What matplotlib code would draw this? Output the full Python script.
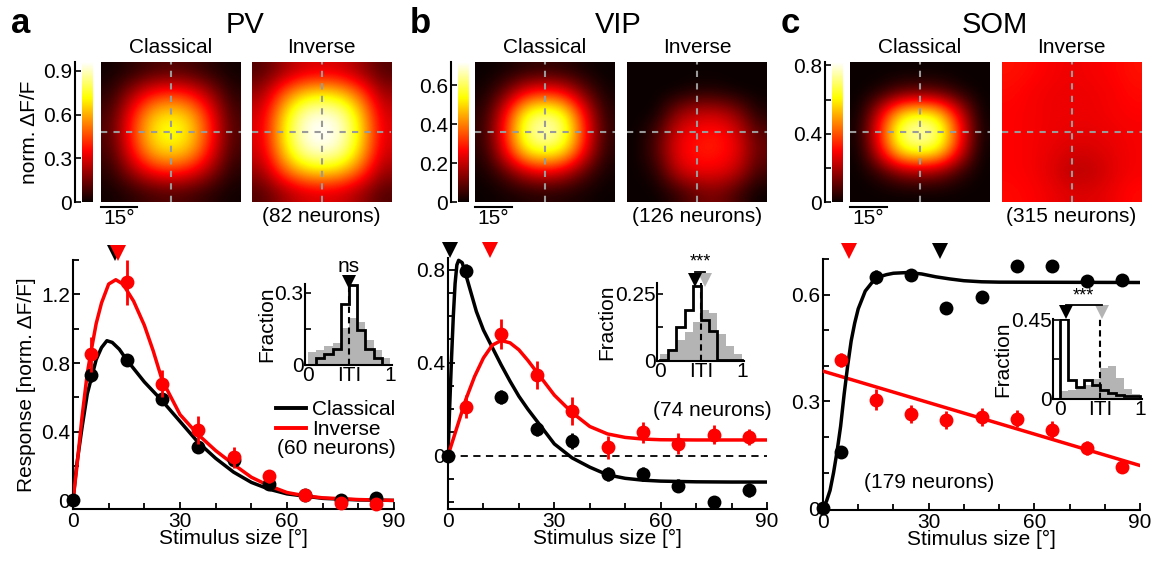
import numpy as np
import matplotlib
matplotlib.use("Agg")
import matplotlib.pyplot as plt
from matplotlib.lines import Line2D
from matplotlib.ticker import MultipleLocator

plt.rcParams['font.family'] = ['Liberation Sans', 'DejaVu Sans']
FS = 15
plt.rcParams['font.size'] = FS

# ---------------- data ----------------
sizes = [0, 5, 15, 25, 35, 45, 55, 65, 75, 85]
inv_sizes = [5, 15, 25, 35, 45, 55, 65, 75, 85]

# PV
pv_cls = [0, 0.73, 0.815, 0.59, 0.31, 0.235, 0.095, 0.03, 0.0, 0.015]
pv_cls_err = [0, 0.04, 0.03, 0.03, 0.03, 0.02, 0.02, 0.015, 0.01, 0.01]
pv_inv = [0.85, 1.27, 0.68, 0.41, 0.25, 0.14, 0.03, -0.015, -0.02]
pv_inv_err = [0.10, 0.13, 0.08, 0.08, 0.06, 0.04, 0.03, 0.02, 0.02]
pv_fit_cls_x = [0, 1, 2.5, 4, 5, 6.5, 8, 9.5, 11, 13, 15, 20, 25, 30, 35, 40, 45, 50, 55, 60, 70, 80, 90]
pv_fit_cls_y = [0, 0.2, 0.42, 0.62, 0.70, 0.82, 0.89, 0.93, 0.92, 0.88, 0.82, 0.69, 0.58, 0.46, 0.34,
                0.245, 0.165, 0.105, 0.065, 0.038, 0.012, 0.003, 0.0]
pv_fit_inv_x = [0, 1, 2.5, 4, 5, 6.5, 8, 10, 12, 14, 17, 20, 22.5, 25, 30, 35, 40, 45, 50, 55, 60, 65, 70, 80, 90]
pv_fit_inv_y = [0, 0.18, 0.48, 0.74, 0.86, 1.03, 1.15, 1.26, 1.285, 1.26, 1.16, 1.02, 0.87, 0.70, 0.50,
                0.385, 0.29, 0.21, 0.135, 0.085, 0.046, 0.027, 0.015, 0.005, 0.0]
pv_peaks = [11.8, 12.6]          # classical, inverse preferred size
pv_hist_cls = [0.0, 0.028, 0.045, 0.065, 0.255, 0.33, 0.145, 0.065, 0.03, 0.0]
pv_hist_inv = [0.055, 0.062, 0.079, 0.09, 0.152, 0.194, 0.18, 0.104, 0.062, 0.028]
pv_hist_marks = [0.5, 0.5]

# VIP
vip_cls = [0, 0.796, 0.25, 0.114, 0.064, -0.079, -0.079, -0.129, -0.2, -0.15]
vip_cls_err = [0, 0.03, 0.03, 0.03, 0.035, 0.03, 0.03, 0.03, 0.025, 0.03]
vip_inv = [0.21, 0.524, 0.347, 0.193, 0.036, 0.10, 0.05, 0.09, 0.079]
vip_inv_err = [0.05, 0.065, 0.06, 0.06, 0.05, 0.045, 0.045, 0.04, 0.035]
vip_fit_cls_x = [0, 0.5, 1, 1.5, 2, 2.5, 3, 4, 5, 6.5, 8, 10, 12.5, 15, 17.5, 20, 22.5, 25, 30, 35, 40,
                 45, 50, 55, 60, 70, 80, 90]
vip_fit_cls_y = [0, 0.22, 0.42, 0.6, 0.74, 0.82, 0.84, 0.83, 0.78, 0.70, 0.62, 0.54, 0.465, 0.39, 0.32,
                 0.255, 0.2, 0.15, 0.05, -0.01, -0.05, -0.083, -0.098, -0.106, -0.11, -0.113, -0.114, -0.114]
vip_fit_inv_x = [0, 2.5, 5, 7.5, 10, 12.5, 15, 17.5, 20, 22.5, 25, 27.5, 30, 35, 40, 45, 50, 55, 60, 70, 90]
vip_fit_inv_y = [0, 0.12, 0.24, 0.34, 0.42, 0.475, 0.495, 0.485, 0.455, 0.41, 0.36, 0.31, 0.26, 0.185,
                 0.125, 0.093, 0.078, 0.071, 0.068, 0.067, 0.067]
vip_peaks = [0.6, 11.8]
vip_hist_cls = [0.004, 0.042, 0.126, 0.19, 0.277, 0.153, 0.11, 0.003, 0.003, 0.003]
vip_hist_inv = [0.027, 0.046, 0.077, 0.108, 0.145, 0.19, 0.176, 0.099, 0.054, 0.025]
vip_hist_marks = [0.43, 0.55]

# SOM
som_cls = [0, 0.157, 0.65, 0.654, 0.561, 0.593, 0.679, 0.68, 0.637, 0.64]
som_cls_err = [0, 0.01, 0.02, 0.01, 0.01, 0.01, 0.01, 0.01, 0.01, 0.01]
som_inv = [0.417, 0.305, 0.265, 0.247, 0.256, 0.252, 0.22, 0.169, 0.115]
som_inv_err = [0.02, 0.03, 0.025, 0.025, 0.025, 0.025, 0.025, 0.02, 0.015]
som_fit_cls_x = [0, 1, 2, 3, 4, 5, 6, 7, 8, 9, 10, 12, 14, 16, 18, 20, 24, 28, 32, 36, 40, 45, 50, 90]
som_fit_cls_y = [0, 0.02, 0.05, 0.10, 0.16, 0.23, 0.32, 0.40, 0.47, 0.52, 0.56, 0.61, 0.635, 0.65, 0.656,
                 0.66, 0.662, 0.658, 0.65, 0.644, 0.639, 0.636, 0.635, 0.634]
som_fit_inv_x = [0, 90]
som_fit_inv_y = [0.385, 0.12]
som_peaks = [33.1, 7.3]
som_hist_cls = [0.454, 0.11, 0.068, 0.106, 0.081, 0.053, 0.034, 0.025, 0.019, 0.019]
som_hist_inv = [0.044, 0.053, 0.062, 0.081, 0.113, 0.176, 0.185, 0.119, 0.057, 0.03]
som_hist_marks = [0.075, 0.52]

hist_edges = np.linspace(0, 1, 11)

# population receptive-field maps (coarse grid, rows top->bottom)
pv_map_cls = [[0.01, 0.04, 0.08, 0.10, 0.08, 0.04, 0.01],
              [0.04, 0.20, 0.35, 0.40, 0.35, 0.20, 0.04],
              [0.08, 0.35, 0.60, 0.68, 0.60, 0.35, 0.08],
              [0.10, 0.40, 0.68, 0.77, 0.68, 0.40, 0.10],
              [0.08, 0.35, 0.60, 0.68, 0.60, 0.35, 0.08],
              [0.04, 0.20, 0.35, 0.40, 0.35, 0.20, 0.04],
              [0.01, 0.04, 0.08, 0.10, 0.08, 0.04, 0.01]]
pv_map_inv = [[0.10, 0.20, 0.28, 0.30, 0.28, 0.20, 0.10],
              [0.20, 0.45, 0.62, 0.67, 0.62, 0.45, 0.20],
              [0.28, 0.62, 0.88, 0.93, 0.88, 0.62, 0.28],
              [0.30, 0.67, 0.93, 0.98, 0.93, 0.67, 0.30],
              [0.28, 0.62, 0.88, 0.93, 0.88, 0.62, 0.28],
              [0.20, 0.45, 0.62, 0.67, 0.62, 0.45, 0.20],
              [0.10, 0.20, 0.28, 0.30, 0.28, 0.20, 0.10]]
vip_map_cls = [[0.00, 0.01, 0.03, 0.04, 0.03, 0.01, 0.00],
               [0.01, 0.10, 0.25, 0.30, 0.25, 0.10, 0.01],
               [0.03, 0.25, 0.55, 0.62, 0.55, 0.25, 0.03],
               [0.04, 0.30, 0.62, 0.71, 0.62, 0.30, 0.04],
               [0.03, 0.25, 0.52, 0.58, 0.52, 0.25, 0.03],
               [0.01, 0.08, 0.20, 0.25, 0.20, 0.08, 0.01],
               [0.00, 0.01, 0.02, 0.03, 0.02, 0.01, 0.00]]
vip_map_inv = [[0.00, 0.00, 0.00, 0.00, 0.00, 0.00, 0.00],
               [0.00, 0.00, 0.00, 0.02, 0.02, 0.00, 0.00],
               [0.00, 0.00, 0.14, 0.20, 0.20, 0.14, 0.02],
               [0.00, 0.06, 0.23, 0.27, 0.29, 0.23, 0.08],
               [0.00, 0.08, 0.25, 0.29, 0.29, 0.25, 0.10],
               [0.00, 0.03, 0.20, 0.25, 0.25, 0.20, 0.06],
               [0.00, 0.00, 0.04, 0.10, 0.12, 0.06, 0.00]]
som_map_cls = [[0.00, 0.00, 0.00, 0.00, 0.00, 0.00, 0.00],
               [0.00, 0.02, 0.08, 0.10, 0.08, 0.02, 0.00],
               [0.00, 0.25, 0.55, 0.62, 0.55, 0.25, 0.00],
               [0.01, 0.35, 0.72, 0.81, 0.72, 0.35, 0.01],
               [0.00, 0.28, 0.60, 0.66, 0.60, 0.28, 0.00],
               [0.00, 0.05, 0.15, 0.18, 0.15, 0.05, 0.00],
               [0.00, 0.00, 0.00, 0.00, 0.00, 0.00, 0.00]]
som_map_inv = [[0.32, 0.31, 0.29, 0.28, 0.29, 0.30, 0.32],
               [0.31, 0.29, 0.28, 0.28, 0.28, 0.29, 0.31],
               [0.30, 0.29, 0.28, 0.28, 0.28, 0.29, 0.30],
               [0.30, 0.29, 0.28, 0.27, 0.27, 0.28, 0.29],
               [0.30, 0.29, 0.27, 0.25, 0.25, 0.27, 0.29],
               [0.30, 0.29, 0.26, 0.21, 0.22, 0.26, 0.29],
               [0.31, 0.30, 0.28, 0.26, 0.26, 0.28, 0.31]]

cbar_max = [0.96, 0.72, 0.82]
cbar_ticks = [[0, 0.3, 0.6, 0.9], [0, 0.2, 0.4, 0.6], [0, 0.4, 0.8]]
cbar_labels = [['0', '0.3', '0.6', '0.9'], ['0', '0.2', '0.4', '0.6'], ['0', '0.4', '0.8']]
map_neurons = ['(82 neurons)', '(126 neurons)', '(315 neurons)']
fit_neurons = ['(60 neurons)', '(74 neurons)', '(179 neurons)']
letters = ['a', 'b', 'c']
titles = ['PV', 'VIP', 'SOM']
scale_deg = 15
map_half = 28.5

# ---------------- layout (pixels) ----------------
W, H = 1165, 562
fig = plt.figure(figsize=(W / 100, H / 100), dpi=100)


def px_axes(l, t, r, b):
    return fig.add_axes([l / W, 1 - b / H, (r - l) / W, (b - t) / H])


top_cols = [(82, 93, 100, 241, 251, 392), (458, 468, 474, 616, 626, 768), (832, 843, 849, 991, 1001, 1142)]
title_x = [245, 618, 995]
letter_x = [21, 420, 790]
main_boxes = [(73, 260, 394, 509), (448, 258, 767, 509), (823, 259, 1140, 510)]
main_ylim = [(-0.05, 1.4), (-0.23, 0.85), (-0.005, 0.70)]
main_yticks = [[0, 0.4, 0.8, 1.2], [0, 0.4, 0.8], [0, 0.3, 0.6]]
main_yticklabels = [['0', '0.4', '0.8', '1.2'], ['0', '0.4', '0.8'], ['0', '0.3', '0.6']]
main_yminor = [0.2, 0.1, 0.1]
inset_boxes = [(305, 284, 392, 365), (657, 283, 744, 361), (1053, 319, 1142, 399)]
inset_xlim = [(-0.037, 1.024), (-0.037, 1.024), (-0.0875, 1.025)]
inset_ylim = [(0, 0.336), (0, 0.289), (0, 0.455)]
inset_yticks = [[0, 0.3], [0, 0.25], [0, 0.45]]
inset_yminor = [0.15, 0.125, 0.225]

maps_cls = [pv_map_cls, vip_map_cls, som_map_cls]
maps_inv = [pv_map_inv, vip_map_inv, som_map_inv]
cls_y = [pv_cls, vip_cls, som_cls]
cls_err = [pv_cls_err, vip_cls_err, som_cls_err]
inv_y = [pv_inv, vip_inv, som_inv]
inv_err = [pv_inv_err, vip_inv_err, som_inv_err]
fit_cls = [(pv_fit_cls_x, pv_fit_cls_y), (vip_fit_cls_x, vip_fit_cls_y), (som_fit_cls_x, som_fit_cls_y)]
fit_inv = [(pv_fit_inv_x, pv_fit_inv_y), (vip_fit_inv_x, vip_fit_inv_y), (som_fit_inv_x, som_fit_inv_y)]
peaks = [pv_peaks, vip_peaks, som_peaks]
hist_cls = [pv_hist_cls, vip_hist_cls, som_hist_cls]
hist_inv = [pv_hist_inv, vip_hist_inv, som_hist_inv]
hist_marks = [pv_hist_marks, vip_hist_marks, som_hist_marks]

RED = '#ff0000'
GRAY = '#b4b4b4'

for i in range(3):
    cb_l, cb_r, c_l, c_r, v_l, v_r = top_cols[i]
    vmax = cbar_max[i]

    fig.text(letter_x[i] / W, 1 - 33 / H, letters[i], fontsize=25, fontweight='bold',
             ha='center', va='baseline')
    fig.text(title_x[i] / W, 1 - 33 / H, titles[i], fontsize=21, ha='center', va='baseline')

    # colour bar
    cax = px_axes(cb_l, 62, cb_r, 202)
    cax.imshow(np.linspace(0, vmax, 256)[:, None], aspect='auto', cmap='hot', origin='lower',
               extent=(0, 1, 0, vmax), vmin=0, vmax=vmax)
    cax.set_xticks([])
    for s in ['top', 'right', 'bottom']:
        cax.spines[s].set_visible(False)
    cax.spines['left'].set_position(('outward', 5))
    cax.spines['left'].set_linewidth(1.5)
    cax.set_ylim(0, vmax)
    cax.set_yticks(cbar_ticks[i], cbar_labels[i])
    if i == 2:
        cax.yaxis.set_minor_locator(MultipleLocator(0.2))
    cax.tick_params(axis='y', which='both', direction='in', length=4, width=1.2, labelsize=FS, pad=2)
    if i == 0:
        cax.set_ylabel('norm. ΔF/F', fontsize=FS, labelpad=3)

    for j, (l, r, grid, name) in enumerate([(c_l, c_r, maps_cls[i], 'Classical'),
                                           (v_l, v_r, maps_inv[i], 'Inverse')]):
        ax = px_axes(l, 62, r, 202)
        ax.imshow(np.array(grid), cmap='hot', vmin=0, vmax=vmax, interpolation='bicubic',
                  extent=(-map_half, map_half, -map_half, map_half))
        ax.axhline(0, color='#9a9a9a', lw=1.5, ls=(0, (3, 3)))
        ax.axvline(0, color='#9a9a9a', lw=1.5, ls=(0, (3, 3)))
        ax.set_xlim(-map_half, map_half)
        ax.set_ylim(-map_half, map_half)
        ax.axis('off')
        ax.text(0.5, 1.035, name, transform=ax.transAxes, ha='center', va='bottom', fontsize=FS)
        if j == 0:
            ax.plot([-map_half, -map_half + scale_deg], [-map_half - 2.2, -map_half - 2.2],
                    color='k', lw=1.5, clip_on=False)
            ax.text(-map_half + scale_deg / 2, -map_half - 3.0, '15°', ha='center', va='top', fontsize=FS)
        else:
            ax.text(0.5, -0.035, map_neurons[i], transform=ax.transAxes, ha='center', va='top',
                    fontsize=FS)

    # size tuning
    ax = px_axes(*main_boxes[i])
    red_z, blk_z = (4, 3) if i < 2 else (3, 4)
    ax.plot(*fit_cls[i], color='k', lw=2.5, zorder=blk_z)
    ax.plot(*fit_inv[i], color=RED, lw=2.5, zorder=red_z)
    ax.errorbar(sizes, cls_y[i], yerr=cls_err[i], fmt='o', color='k', ms=10, mew=0, elinewidth=2,
                capsize=0, zorder=blk_z + 2, clip_on=False)
    ax.errorbar(inv_sizes, inv_y[i], yerr=inv_err[i], fmt='o', color=RED, ms=10, mew=0, elinewidth=2,
                capsize=0, zorder=red_z + 2, clip_on=False)
    if i == 1:
        ax.axhline(0, color='k', lw=1.3, ls=(0, (4, 3)), zorder=1)
    tr = ax.get_xaxis_transform()
    ax.plot(peaks[i][0], 1.03, marker='v', color='k', ms=11, mew=0, transform=tr, clip_on=False)
    ax.plot(peaks[i][1], 1.03, marker='v', color=RED, ms=11, mew=0, transform=tr, clip_on=False)
    ax.set_xlim(0, 90)
    ax.set_ylim(*main_ylim[i])
    ax.set_xticks([0, 30, 60, 90])
    ax.xaxis.set_minor_locator(MultipleLocator(10))
    ax.set_yticks(main_yticks[i], main_yticklabels[i])
    ax.yaxis.set_minor_locator(MultipleLocator(main_yminor[i]))
    for s in ['top', 'right']:
        ax.spines[s].set_visible(False)
    for s in ['left', 'bottom']:
        ax.spines[s].set_linewidth(1.5)
    ax.tick_params(which='both', direction='in', width=1.3, labelsize=FS, pad=2)
    ax.tick_params(which='major', length=5)
    ax.tick_params(which='minor', length=4)
    ax.set_xlabel('Stimulus size [°]', fontsize=FS, labelpad=-1)
    if i == 0:
        ax.set_ylabel('Response [norm. ΔF/F]', fontsize=FS, labelpad=4)

    # ITI histogram inset
    axi = px_axes(*inset_boxes[i])
    axi.stairs(hist_inv[i], hist_edges, fill=True, color=GRAY, lw=0, zorder=1)
    axi.axvline(0.5, color='k', lw=1.5, ls=(0, (3, 2)), zorder=2)
    axi.stairs(hist_cls[i], hist_edges, baseline=0, color='k', lw=2, zorder=3)
    axi.set_xlim(*inset_xlim[i])
    axi.set_ylim(*inset_ylim[i])
    axi.set_xticks([0, 0.5, 1], ['0', 'ITI', '1'])
    axi.set_yticks(inset_yticks[i], [('0' if v == 0 else f'{v:g}') for v in inset_yticks[i]])
    axi.yaxis.set_minor_locator(MultipleLocator(inset_yminor[i]))
    for s in ['top', 'right']:
        axi.spines[s].set_visible(False)
    for s in ['left', 'bottom']:
        axi.spines[s].set_linewidth(1.5)
    axi.tick_params(which='both', direction='in', width=1.2, labelsize=FS, pad=1)
    axi.tick_params(which='major', length=4)
    axi.tick_params(which='minor', length=4)
    axi.tick_params(axis='x', length=0)
    axi.set_ylabel('Fraction', fontsize=FS, labelpad=-1)
    itr = axi.get_xaxis_transform()
    mk_y = [1.03, 1.04, 1.09][i]
    if i > 0:
        axi.plot(hist_marks[i][1], mk_y, marker='v', color=GRAY, ms=10, mew=0, transform=itr,
                 clip_on=False)
    axi.plot(hist_marks[i][0], mk_y, marker='v', color='k', ms=10, mew=0, transform=itr, clip_on=False)
    if i == 0:
        axi.text(0.5, 1.1, 'ns', transform=itr, ha='center', va='bottom', fontsize=FS)
    else:
        bar_y = [0, 1.145, 1.175][i]
        axi.plot(hist_marks[i], [bar_y, bar_y], color='k', lw=1.3, transform=itr, clip_on=False)
        axi.text(np.mean(hist_marks[i]), bar_y + 0.01, '***', transform=itr, ha='center',
                 va='bottom', fontsize=13)

    # neuron counts
    if i == 0:
        handles = [Line2D([], [], color='k', lw=2.8), Line2D([], [], color=RED, lw=2.8)]
        ax.legend(handles, ['Classical', 'Inverse'], frameon=False, loc='upper left',
                  bbox_to_anchor=(276 / W, 1 - 400 / H), bbox_transform=fig.transFigure,
                  borderpad=0, borderaxespad=0, labelspacing=0.05, handlelength=1.45,
                  handletextpad=0.3, fontsize=FS)
        fig.text(277 / W, 1 - 449 / H, fit_neurons[0], ha='left', va='center', fontsize=FS)
    elif i == 1:
        fig.text(712 / W, 1 - 410 / H, fit_neurons[1], ha='center', va='center', fontsize=FS)
    else:
        fig.text(929 / W, 1 - 483 / H, fit_neurons[2], ha='center', va='center', fontsize=FS)

fig.savefig('out.png', dpi=100)
